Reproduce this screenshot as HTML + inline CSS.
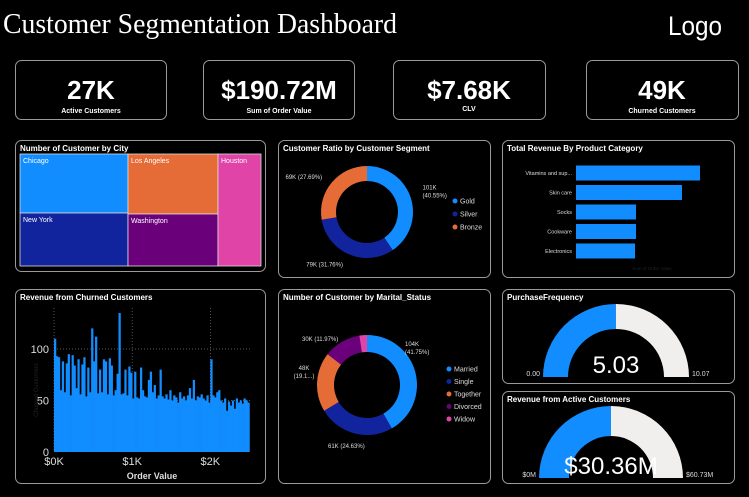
<!DOCTYPE html>
<html><head><meta charset="utf-8"><style>
html,body{margin:0;padding:0;background:#000;}
svg{display:block;font-family:"Liberation Sans",sans-serif;}
</style></head><body>
<svg id="dash" width="749" height="497" viewBox="0 0 749 497">
<rect width="749" height="497" fill="#000"/>
<text x="3" y="33" fill="#fff" font-family="Liberation Serif, serif" font-size="29" textLength="394" lengthAdjust="spacingAndGlyphs">Customer Segmentation Dashboard</text>
<text x="668" y="35" fill="#fff" font-size="27" textLength="54" lengthAdjust="spacingAndGlyphs">Logo</text>
<g fill="none" stroke="#9a9a9a" stroke-width="1">
<rect x="15.5" y="60.5" width="151" height="59" rx="6"/>
<rect x="203.5" y="60.5" width="151" height="59" rx="6"/>
<rect x="393.5" y="60.5" width="152" height="59" rx="6"/>
<rect x="586.5" y="60.5" width="152" height="59" rx="6"/>
<rect x="15.5" y="140.5" width="250" height="131" rx="6"/>
<rect x="278.5" y="140.5" width="212" height="137" rx="6"/>
<rect x="502.5" y="140.5" width="232" height="137" rx="6"/>
<rect x="15.5" y="289.5" width="250" height="194" rx="6"/>
<rect x="278.5" y="289.5" width="212" height="194" rx="6"/>
<rect x="502.5" y="289.5" width="232" height="94" rx="6"/>
<rect x="502.5" y="391.5" width="232" height="92" rx="6"/>
</g>
<g fill="#fff" text-anchor="middle" font-weight="bold">
<text x="91" y="99" font-size="26">27K</text>
<text x="91" y="113" font-size="7">Active Customers</text>
<text x="279" y="99" font-size="26">$190.72M</text>
<text x="279" y="113" font-size="7">Sum of Order Value</text>
<text x="469" y="99" font-size="26">$7.68K</text>
<text x="469" y="111" font-size="7">CLV</text>
<text x="662" y="99" font-size="26">49K</text>
<text x="662" y="113" font-size="7">Churned Customers</text>
</g>
<g fill="#fff" font-size="8" font-weight="bold">
<text x="20" y="151">Number of Customer by City</text>
<text x="283" y="151">Customer Ratio by Customer Segment</text>
<text x="507" y="151">Total Revenue By Product Category</text>
<text x="20" y="300">Revenue from Churned Customers</text>
<text x="283" y="300">Number of Customer by Marital_Status</text>
<text x="507" y="300">PurchaseFrequency</text>
<text x="507" y="402">Revenue from Active Customers</text>
</g>
<g id="treemap" stroke="#ddd" stroke-width="0.8" font-size="7">
<rect x="20" y="154" width="108" height="59" fill="#118dff"/>
<rect x="20" y="213" width="108" height="53" fill="#12239e"/>
<rect x="128" y="154" width="90" height="60" fill="#e66c37"/>
<rect x="128" y="214" width="90" height="52" fill="#6b007b"/>
<rect x="218" y="154" width="43" height="112" fill="#e044a7"/>
<g fill="#fff" stroke="none">
<text x="23" y="163">Chicago</text>
<text x="23" y="222">New York</text>
<text x="131" y="163">Los Angeles</text>
<text x="131" y="223">Washington</text>
<text x="221" y="163">Houston</text>
</g>
</g>
<g id="seg"></g>
<g id="cat"></g>
<g id="churn"></g>
<g id="mar"></g>
<g id="gauges"></g>
</svg>
<script>
const NS="http://www.w3.org/2000/svg";
function mk(parent,tag,attrs,txt){const e=document.createElementNS(NS,tag);for(const k in attrs)e.setAttribute(k,attrs[k]);if(txt!==undefined)e.textContent=txt;parent.appendChild(e);return e;}

// ---- data ----
const segNames=["Gold","Silver","Bronze"];
const segValues=[40.55,31.76,27.69];
const segLabels=["101K\n(40.55%)","79K (31.76%)","69K (27.69%)"];
const segColors=["#118dff","#12239e","#e66c37"];

const catNames=["Vitamins and sup...","Skin care","Socks","Cookware","Electronics"];
const catValues=[62,53,30,30,29.5];

const churnBinSize=25;
const churnCounts=[110,93,92,60,88,58,86,95,55,94,84,62,90,56,85,92,54,82,58,120,88,112,57,80,58,90,88,56,91,84,55,60,76,135,56,57,80,55,83,77,
52,78,53,52,82,60,54,53,70,78,58,65,52,55,80,54,52,56,51,60,50,55,53,48,58,52,54,50,55,62,52,70,50,54,53,56,52,50,55,48,
90,55,53,58,60,50,48,52,40,49,45,50,42,52,48,50,47,52,50,48];
const churnYTicks=[0,50,100];
const churnXTicks=[0,1000,2000];
const churnXLabels=["$0K","$1K","$2K"];

const marNames=["Married","Single","Together","Divorced","Widow"];
const marValues=[41.75,24.63,19.19,11.97,2.46];
const marLabels=["104K\n(41.75%)","61K (24.63%)","48K\n(19.1...)","30K (11.97%)",""];
const marColors=["#118dff","#12239e","#e66c37","#6b007b","#e044a7"];

const pfValue=5.03, pfMax=10.07;
const revValue=30.36, revMax=60.73;

function donut(g,cx,cy,ro,ri,vals,cols,name){
  const tot=vals.reduce((a,b)=>a+b,0);let a0=-Math.PI/2;const mids=[];
  vals.forEach((v,i)=>{const a1=a0+v/tot*2*Math.PI;
    const p=(r,a)=>[cx+r*Math.cos(a),cy+r*Math.sin(a)];
    const L=(a1-a0)>Math.PI?1:0;const [x0,y0]=p(ro,a0),[x1,y1]=p(ro,a1),[x2,y2]=p(ri,a1),[x3,y3]=p(ri,a0);
    const path=mk(g,"path",{d:`M${x0},${y0}A${ro},${ro} 0 ${L} 1 ${x1},${y1}L${x2},${y2}A${ri},${ri} 0 ${L} 0 ${x3},${y3}Z`,fill:cols[i]});
    
    
    mids.push((a0+a1)/2);a0=a1;});
  return mids;
}
function multiText(g,x,y,s,anchor,name){const lines=s.split("\n");lines.forEach((l,i)=>{const t=mk(g,"text",{x:x,y:y+i*8,fill:"#ddd","font-size":"6","text-anchor":anchor},l);
  
  });}

const seg=document.getElementById("seg");
const segMids=donut(seg,367,212,46,31,segValues,segColors,"segment");
segMids.forEach((a,i)=>{const ax=367+56*Math.cos(a),ay=212+56*Math.sin(a);const right=Math.cos(a)>0;
  multiText(seg,right?ax+2:ax-2,i==0?ay-6:ay+3,segLabels[i],right?"start":"end","segment-data-label");});
segNames.forEach((n,i)=>{const y=201+i*13;
  const c=mk(seg,"circle",{cx:455,cy:y,r:2.5,fill:segColors[i]});
  
  
  const t=mk(seg,"text",{x:460,y:y+2.5,fill:"#ddd","font-size":"7"},n);
  
  });

const cat=document.getElementById("cat");
const catX0=576,catScale=124/62,catY0=173,catStep=19.5;
catNames.forEach((n,i)=>{const y=catY0+i*catStep;
  const r=mk(cat,"rect",{x:catX0,y:y-7.5,width:catValues[i]*catScale,height:15,fill:"#118dff"});
  
  
  const t=mk(cat,"text",{x:catX0-4,y:y+2,fill:"#ddd","font-size":"5.5","text-anchor":"end"},n);
  
  });
const catAx=mk(cat,"text",{x:652,y:270,fill:"#222","font-size":"4.5","text-anchor":"middle"},"Sum of Order Value");



const ch=document.getElementById("churn");
const cx0=54,cx1=251,cy0=452,yPer=1.03,xMax=2520;
const xs=v=>cx0+v/xMax*(cx1-cx0);const ys=v=>cy0-v*yPer;
[100,50].forEach(v=>{const l=mk(ch,"line",{x1:cx0,x2:cx1,y1:ys(v),y2:ys(v),stroke:"#777","stroke-width":"0.7","stroke-dasharray":"1,2"});
  
  });
churnXTicks.forEach(v=>{const l=mk(ch,"line",{x1:xs(v),x2:xs(v),y1:308,y2:cy0,stroke:"#777","stroke-width":"0.7","stroke-dasharray":"1,2"});
  
  });
churnCounts.forEach((c,i)=>{const xa=xs(i*churnBinSize),xb=xs((i+1)*churnBinSize);
  const r=mk(ch,"rect",{x:xa,y:ys(c),width:xb-xa+0.3,height:cy0-ys(c),fill:"#118dff"});
  
  });
churnYTicks.forEach(v=>{const t=mk(ch,"text",{x:cx0-5,y:ys(v)+4,fill:"#ddd","font-size":"11","text-anchor":"end"},String(v));
  
  });
churnXTicks.forEach((v,i)=>{const t=mk(ch,"text",{x:xs(v),y:465,fill:"#ddd","font-size":"11","text-anchor":"middle"},churnXLabels[i]);
  
  });
const cxt=mk(ch,"text",{x:152,y:479,fill:"#ddd","font-size":"9","font-weight":"bold","text-anchor":"middle"},"Order Value");


const cyt=mk(ch,"text",{x:0,y:0,fill:"#222","font-size":"6","text-anchor":"middle",transform:"translate(38,390) rotate(-90)"},"Churned Customers");



const mar=document.getElementById("mar");
const mcx=367,mcy=385;
const marMids=donut(mar,mcx,mcy,50,33,marValues,marColors,"marital");
const marPos=[[405,346,"start"],[328,448,"start"],[304,370,"middle"],[302,341,"start"]];
marPos.forEach((p,i)=>multiText(mar,p[0],p[1],marLabels[i],p[2],"marital-data-label"));
marNames.forEach((n,i)=>{const y=369+i*12.5;
  const c=mk(mar,"circle",{cx:449,cy:y,r:2.5,fill:marColors[i]});
  
  
  const t=mk(mar,"text",{x:454,y:y+2.5,fill:"#ddd","font-size":"7"},n);
  
  });

const gg=document.getElementById("gauges");
function gauge(cx,cy,ro,ri,val,max,valTxt,minTxt,maxTxt,name,fs){
  const arc=(a0,a1,col,nm)=>{const p=(r,a)=>[cx+r*Math.cos(a),cy-r*Math.sin(a)];
    const [x0,y0]=p(ro,a0),[x1,y1]=p(ro,a1),[x2,y2]=p(ri,a1),[x3,y3]=p(ri,a0);
    const e=mk(gg,"path",{d:`M${x0},${y0}A${ro},${ro} 0 0 1 ${x1},${y1}L${x2},${y2}A${ri},${ri} 0 0 0 ${x3},${y3}Z`,fill:col});
    
    };
  const split=Math.PI*(1-val/max);
  arc(Math.PI,split,"#118dff",name+'-value-arc');
  arc(split,0,"#f0efed",name+'-remaining-arc');
  const t=mk(gg,"text",{x:cx,y:cy-4,fill:"#fff","font-size":fs,"text-anchor":"middle"},valTxt);
  
  
  const a=mk(gg,"text",{x:cx-ro-3,y:cy-1,fill:"#ddd","font-size":"7","text-anchor":"end"},minTxt);
  
  
  const b=mk(gg,"text",{x:cx+ro+3,y:cy-1,fill:"#ddd","font-size":"7"},maxTxt);
  
  
}
gauge(616,377,73,48,pfValue,pfMax,pfValue.toFixed(2),"0.00",pfMax.toFixed(2),"frequency-gauge","24");
gauge(611,478,72,42,revValue,revMax,"$"+revValue.toFixed(2)+"M","$0M","$"+revMax.toFixed(2)+"M","active-revenue-gauge","24");
</script>
</body></html>
